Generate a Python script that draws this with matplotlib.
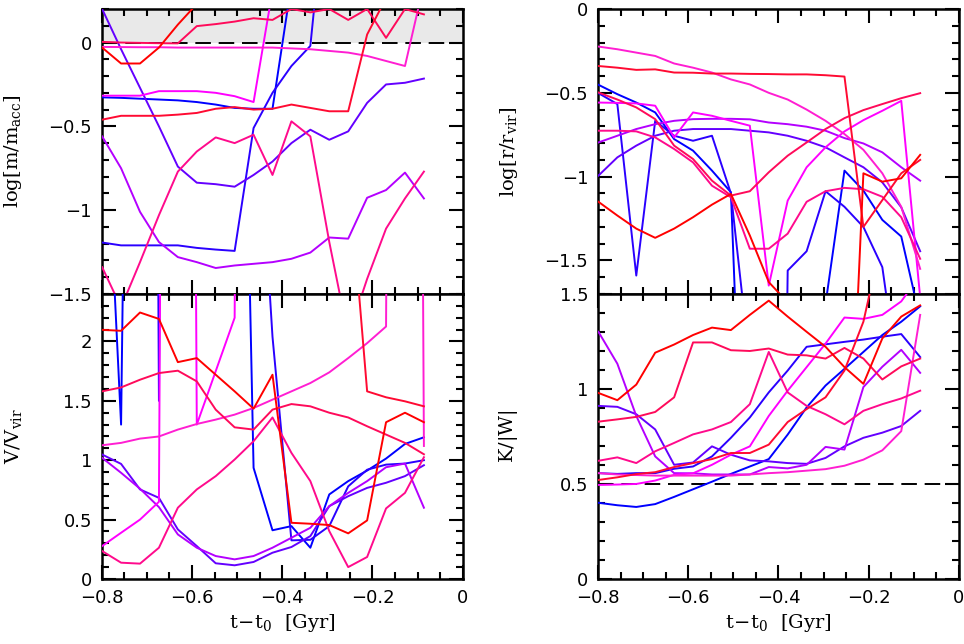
import numpy as np
import matplotlib
matplotlib.use("Agg")
import matplotlib.pyplot as plt
from matplotlib.ticker import MultipleLocator, FuncFormatter

# time of the snapshots (18 outputs before t0)
t = np.linspace(-0.799, -0.086, 18)

# one colour per subhalo, blue -> red
colors = ['#0000ff', '#2a00ff', '#6400ff', '#b400ff', '#ff00ff',
          '#ff1ed2', '#ff0a8c', '#ff0a5a', '#ff0a32', '#ff0000']

# log[m/m_acc]   (values off the plot are just large / small)
mass = [
    [-0.327, -0.33, -0.335, -0.34, -0.345, -0.355, -0.37, -0.39, -0.395, -0.395, 0.35, 0.6, 0.6, 0.6, 0.6, 0.6, 0.6, 0.6],
    [-1.193, -1.21, -1.21, -1.21, -1.21, -1.225, -1.235, -1.243, -0.51, -0.30, -0.14, -0.02, 1.1, 1.5, 1.5, 1.5, 1.5, 1.5],
    [0.2, -0.04, -0.27, -0.50, -0.74, -0.836, -0.845, -0.86, -0.79, -0.71, -0.6, -0.52, -0.58, -0.53, -0.36, -0.25, -0.24, -0.215],
    [-0.56, -0.75, -1.01, -1.19, -1.28, -1.31, -1.345, -1.33, -1.32, -1.31, -1.29, -1.253, -1.163, -1.17, -0.926, -0.88, -0.776, -0.93],
    [-0.317, -0.317, -0.317, -0.29, -0.29, -0.29, -0.30, -0.32, -0.355, 0.31, 0.6, 0.6, 0.6, 0.6, 0.6, 0.6, 0.6, 0.6],
    [-0.026, -0.027, -0.028, -0.028, -0.03, -0.03, -0.03, -0.03, -0.03, -0.03, -0.035, -0.04, -0.05, -0.06, -0.08, -0.11, -0.14, 0.35],
    [-1.34, -1.58, -1.31, -1.03, -0.77, -0.65, -0.566, -0.60, -0.55, -0.79, -0.47, -0.56, -1.19, -1.75, -1.41, -1.11, -0.93, -0.77],
    [0.004, 0.0, -0.002, -0.004, -0.005, 0.098, 0.11, 0.125, 0.145, 0.135, 0.2, 0.18, 0.2, 0.135, 0.2, 0.028, 0.2, 0.168],
    [-0.46, -0.437, -0.437, -0.437, -0.43, -0.42, -0.395, -0.385, -0.40, -0.395, -0.37, -0.39, -0.41, -0.41, 0.048, 0.265, 0.5, 0.5],
    [-0.03, -0.125, -0.125, -0.03, 0.107, 0.23, 0.5, 0.5, 0.5, 0.5, 0.5, 0.5, 0.5, 0.5, 0.5, 0.5, 0.5, 0.5],
]

# log[r/r_vir]
radius = [
    [-0.452, -0.508, -0.558, -0.617, -0.776, -0.845, -0.964, -1.093, -4, -4, -4, -4, -1.76, -0.964, -1.083, -1.258, -1.357, -1.85],
    [-0.502, -0.567, -1.59, -0.667, -0.756, -0.786, -0.756, -1.10, -2.12, -10, -1.56, -1.445, -1.087, -1.18, -1.30, -1.54, -2.34, -3],
    [-0.994, -0.885, -0.815, -0.756, -0.726, -0.716, -0.716, -0.716, -0.726, -0.736, -0.756, -0.786, -0.825, -0.885, -0.944, -1.034, -1.183, -1.445],
    [-0.796, -0.756, -0.716, -0.687, -0.667, -0.657, -0.655, -0.655, -0.658, -0.677, -0.687, -0.702, -0.726, -0.77, -0.802, -0.855, -0.944, -1.024],
    [-0.558, -0.56, -0.563, -0.577, -0.766, -0.617, -0.637, -0.667, -0.696, -1.65, -1.143, -0.944, -0.825, -0.73, -0.663, -0.607, -0.548, -1.72],
    [-0.224, -0.24, -0.26, -0.28, -0.325, -0.35, -0.379, -0.42, -0.45, -0.5, -0.54, -0.6, -0.667, -0.746, -0.84, -0.98, -1.18, -1.55],
    [-0.726, -0.726, -0.73, -0.766, -0.835, -0.915, -1.054, -1.123, -1.43, -1.43, -1.34, -1.15, -1.087, -1.067, -1.075, -1.12, -1.242, -1.49],
    [-0.498, -0.54, -0.587, -0.657, -0.815, -0.895, -1.024, -1.113, -1.087, -0.974, -0.875, -0.796, -0.716, -0.651, -0.603, -0.567, -0.532, -0.502],
    [-0.34, -0.35, -0.363, -0.36, -0.379, -0.38, -0.385, -0.385, -0.387, -0.388, -0.39, -0.39, -0.395, -0.403, -1.30, -1.14, -0.98, -0.90],
    [-1.15, -1.232, -1.31, -1.365, -1.31, -1.242, -1.167, -1.103, -1.351, -1.629, -1.75, -2.5, -3, -3.5, -0.98, -1.03, -1.01, -0.87],
]

# V/V_vir
vel = [
    [4.6, 1.30, 14, 30, 30, 30, 30, 8.6, 0.936, 0.41, 0.445, 0.263, 0.712, 0.824, 0.913, 1.014, 1.137, 1.193],
    [30, 30, 30, 1.50, 30, 30, 30, 30, 4.6, 2.04, 0.325, 0.33, 0.445, 0.78, 0.92, 0.963, 0.972, 1.0],
    [1.048, 0.969, 0.754, 0.683, 0.417, 0.277, 0.132, 0.115, 0.143, 0.221, 0.269, 0.361, 0.613, 0.697, 0.767, 0.81, 0.866, 0.958],
    [1.02, 0.894, 0.76, 0.605, 0.375, 0.263, 0.193, 0.165, 0.193, 0.263, 0.347, 0.431, 0.613, 0.725, 0.824, 0.941, 0.972, 0.60],
    [0.277, 0.389, 0.50, 0.65, 30, 1.30, 1.75, 2.2, 30, 30, 30, 30, 30, 30, 30, 30, 30, 30],
    [1.126, 1.146, 1.182, 1.20, 1.258, 1.305, 1.342, 1.384, 1.44, 1.51, 1.58, 1.65, 1.74, 1.86, 1.986, 2.126, 30, 1.12],
    [0.235, 0.137, 0.129, 0.263, 0.60, 0.754, 0.866, 1.006, 1.16, 1.36, 1.062, 0.824, 0.403, 0.10, 0.185, 0.594, 0.725, 1.025],
    [1.58, 1.613, 1.678, 1.734, 1.754, 1.664, 1.426, 1.277, 1.258, 1.426, 1.473, 1.454, 1.40, 1.36, 1.286, 1.216, 1.146, 1.05],
    [30, 30, 30, 30, 30, 30, 30, 30, 30, 30, 30, 30, 30, 3.5, 1.58, 1.53, 1.496, 1.454],
    [2.098, 2.09, 2.244, 2.19, 1.826, 1.86, 1.72, 1.58, 1.434, 1.72, 0.473, 0.465, 0.454, 0.384, 0.493, 1.32, 1.40, 1.32],
]

# K/|W|
virial = [
    [0.401, 0.388, 0.379, 0.394, 0.432, 0.472, 0.512, 0.553, 0.592, 0.631, 0.76, 0.903, 1.018, 1.106, 1.195, 1.284, 1.354, 1.435],
    [0.557, 0.553, 0.557, 0.557, 0.58, 0.592, 0.645, 0.743, 0.85, 0.982, 1.097, 1.222, 1.235, 1.248, 1.26, 1.275, 1.289, 1.168],
    [0.911, 0.906, 0.867, 0.787, 0.601, 0.613, 0.698, 0.654, 0.624, 0.619, 0.61, 0.606, 0.637, 0.698, 0.743, 0.77, 0.805, 0.885],
    [1.301, 1.133, 0.858, 0.645, 0.557, 0.556, 0.55, 0.55, 0.55, 0.589, 0.582, 0.601, 0.695, 0.681, 1.01, 1.117, 1.206, 1.085],
    [0.495, 0.497, 0.5, 0.518, 0.548, 0.556, 0.601, 0.654, 0.698, 0.858, 0.991, 1.115, 1.239, 1.376, 1.369, 1.39, 1.461, 1.6],
    [0.557, 0.55, 0.547, 0.544, 0.544, 0.544, 0.544, 0.544, 0.55, 0.557, 0.562, 0.57, 0.578, 0.596, 0.628, 0.677, 0.778, 1.39],
    [0.622, 0.64, 0.61, 0.672, 0.716, 0.761, 0.787, 0.826, 0.92, 1.195, 0.982, 0.911, 0.867, 0.814, 0.885, 0.92, 0.95, 0.991],
    [0.828, 0.84, 0.853, 0.879, 0.956, 1.245, 1.245, 1.204, 1.2, 1.213, 1.181, 1.177, 1.16, 1.216, 1.16, 1.05, 1.119, 1.16],
    [0.521, 0.535, 0.552, 0.562, 0.589, 0.61, 0.631, 0.663, 0.663, 0.707, 0.826, 0.894, 0.956, 1.097, 1.354, 1.8, 1.9, 1.9],
    [0.979, 0.941, 1.023, 1.191, 1.234, 1.284, 1.323, 1.31, 1.39, 1.465, 1.381, 1.301, 1.222, 1.115, 1.027, 1.266, 1.381, 1.44],
]

plt.rcParams['font.family'] = 'DejaVu Sans'
plt.rcParams['mathtext.fontset'] = 'dejavuserif'


def fmt(v, pos):
    # 0, -0.5, -1 ... with a real minus sign
    s = '%g' % round(v, 3)
    if s == '-0':
        s = '0'
    return s.replace('-', '\u2212')


def setup_axis(ax, ylim, xlabels):
    ax.set_xlim(-0.8, 0)
    ax.set_ylim(*ylim)
    ax.xaxis.set_major_locator(MultipleLocator(0.2))
    ax.xaxis.set_minor_locator(MultipleLocator(0.05))
    ax.yaxis.set_major_locator(MultipleLocator(0.5))
    ax.yaxis.set_minor_locator(MultipleLocator(0.1))
    ax.tick_params(which='both', direction='in', top=True, right=True,
                   width=1.5, labelsize=13, pad=7)
    ax.tick_params(which='major', length=10)
    ax.tick_params(which='minor', length=5)
    ax.xaxis.set_major_formatter(FuncFormatter(fmt))
    ax.yaxis.set_major_formatter(FuncFormatter(fmt))
    if not xlabels:
        ax.tick_params(labelbottom=False)
    for s in ax.spines.values():
        s.set_linewidth(1.8)


def draw_lines(ax, data):
    for vals, c in zip(data, colors):
        ax.plot(t, vals, color=c, lw=1.4, zorder=3)


fig = plt.figure(figsize=(9.64, 6.44), dpi=100)

lx, rx, w = 0.1055, 0.6203, 0.3745
ty, by, h = 0.5435, 0.1010, 0.4425

ax1 = fig.add_axes([lx, ty, w, h])
ax2 = fig.add_axes([rx, ty, w, h])
ax3 = fig.add_axes([lx, by, w, h])
ax4 = fig.add_axes([rx, by, w, h])

# mass panel
setup_axis(ax1, (-1.5, 0.2), False)
ax1.axhspan(0, 0.2, color='#e9e9e9', zorder=0, lw=0)
ax1.axhline(0, color='k', lw=1.4, ls=(0, (8, 4)), zorder=2)
draw_lines(ax1, mass)
ax1.yaxis.set_major_locator(plt.FixedLocator([-1.5, -1, -0.5, 0]))
ax1.set_ylabel(r'$\log[\mathrm{m/m_{acc}}]$', fontsize=14)
ax1.yaxis.set_label_coords(-0.215, 0.5)

# radius panel
setup_axis(ax2, (-1.7, 0), False)
draw_lines(ax2, radius)
ax2.set_ylabel(r'$\log[\mathrm{r/r_{vir}}]$', fontsize=14)
ax2.yaxis.set_label_coords(-0.215, 0.5)

# velocity panel
setup_axis(ax3, (0, 2.4), True)
draw_lines(ax3, vel)
ax3.set_ylabel(r'$\mathrm{V/V_{vir}}$', fontsize=14)
ax3.yaxis.set_label_coords(-0.215, 0.5)
ax3.set_xlabel(r'$\mathrm{t\!-\!t_0}$  [Gyr]', fontsize=14, family='DejaVu Serif')

# virial ratio panel
setup_axis(ax4, (0, 1.5), True)
ax4.axhline(0.5, color='k', lw=1.4, ls=(0, (8, 4)), zorder=2)
draw_lines(ax4, virial)
ax4.set_ylabel(r'$\mathrm{K/|W|}$', fontsize=14)
ax4.yaxis.set_label_coords(-0.215, 0.5)
ax4.set_xlabel(r'$\mathrm{t\!-\!t_0}$  [Gyr]', fontsize=14, family='DejaVu Serif')

fig.savefig('out.png', dpi=100)
